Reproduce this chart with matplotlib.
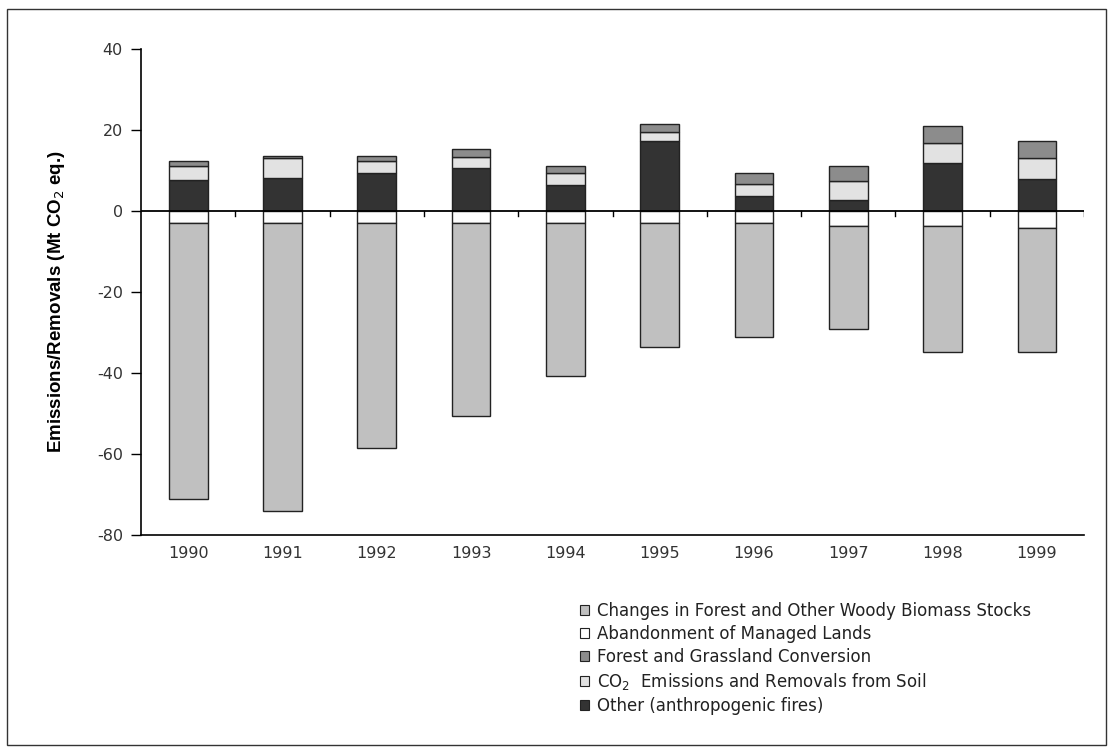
import matplotlib.pyplot as plt
import numpy as np
from matplotlib.patches import Patch, Rectangle

plt.rcParams["font.family"] = ["DejaVu Sans"]
plt.rcParams["axes.unicode_minus"] = False

# === data (Mt CO2 eq.) ===
years = ["1990", "1991", "1992", "1993", "1994", "1995", "1996", "1997", "1998", "1999"]
other_fires = [7.6, 8.2, 9.5, 10.5, 6.3, 17.3, 3.8, 2.7, 11.8, 7.8]
soil = [3.5, 4.8, 2.8, 2.9, 3.0, 2.1, 2.8, 4.8, 5.1, 5.3]
conversion = [1.2, 0.6, 1.3, 2.0, 1.9, 2.1, 2.9, 3.7, 4.0, 4.1]
abandonment = [-2.9, -2.9, -2.9, -2.9, -2.9, -2.9, -2.9, -3.6, -3.6, -4.2]
forest_stocks = [-68.2, -71.1, -55.7, -47.6, -37.9, -30.6, -28.1, -25.6, -31.2, -30.5]

labels = [
    "Changes in Forest and Other Woody Biomass Stocks",
    "Abandonment of Managed Lands",
    "Forest and Grassland Conversion",
    "CO$_2$  Emissions and Removals from Soil",
    "Other (anthropogenic fires)",
]
colors = ["#c0c0c0", "#fdfdfd", "#8c8c8c", "#e2e2e2", "#333333"]

x = np.arange(len(years))
w = 0.41
ec = "#222222"
lw = 1.0

fig = plt.figure(figsize=(11.13, 7.51), dpi=100)
ax = fig.add_axes([0.1267, 0.2876, 0.8473, 0.6472])

# positive stack
ax.bar(x, other_fires, w, color=colors[4], edgecolor=ec, linewidth=lw)
ax.bar(x, soil, w, bottom=other_fires, color=colors[3], edgecolor=ec, linewidth=lw)
bottom2 = np.array(other_fires) + np.array(soil)
ax.bar(x, conversion, w, bottom=bottom2, color=colors[2], edgecolor=ec, linewidth=lw)

# negative stack
ax.bar(x, abandonment, w, color=colors[1], edgecolor=ec, linewidth=lw)
ax.bar(x, forest_stocks, w, bottom=abandonment, color=colors[0], edgecolor=ec, linewidth=lw)

# zero line with category ticks
ax.axhline(0, color="black", linewidth=1.3, zorder=3)
for b in np.arange(0.5, len(years), 1.0):
    ax.plot([b, b], [0, -1.3], color="black", linewidth=1.0, zorder=3)

ax.set_xlim(-0.5, len(years) - 0.5)
ax.set_ylim(-80, 40)
ax.set_yticks(np.arange(-80, 41, 20))
ax.set_xticks(x)
ax.set_xticklabels(years)
ax.tick_params(axis="x", length=0, pad=8, labelsize=11.5, labelcolor="#333333")
ax.tick_params(axis="y", length=7, width=1, pad=6, labelsize=11.5, labelcolor="#333333")

for s in ["top", "right"]:
    ax.spines[s].set_visible(False)
ax.spines["left"].set_linewidth(1.2)
ax.spines["bottom"].set_linewidth(1.2)

ax.set_ylabel("Emissions/Removals (Mt CO$_2$ eq.)", fontsize=13.5, fontweight="bold",
              family=["Liberation Sans", "DejaVu Sans"])
ax.yaxis.set_label_coords(-0.079, 0.48)

# legend
handles = [Patch(facecolor=c, edgecolor="#222222", linewidth=0.8) for c in colors]
fig.legend(handles, labels, loc="upper left", bbox_to_anchor=(0.515, 0.207),
           frameon=False, fontsize=12, handlelength=0.55, handleheight=0.55,
           handletextpad=0.5, labelspacing=0.3, borderaxespad=0,
           labelcolor="#222222")

# outer frame
fig.patches.append(Rectangle((0.006, 0.008), 0.988, 0.98, transform=fig.transFigure,
                             fill=False, edgecolor="#333333", linewidth=1.0))

fig.savefig("out.png", dpi=100)
